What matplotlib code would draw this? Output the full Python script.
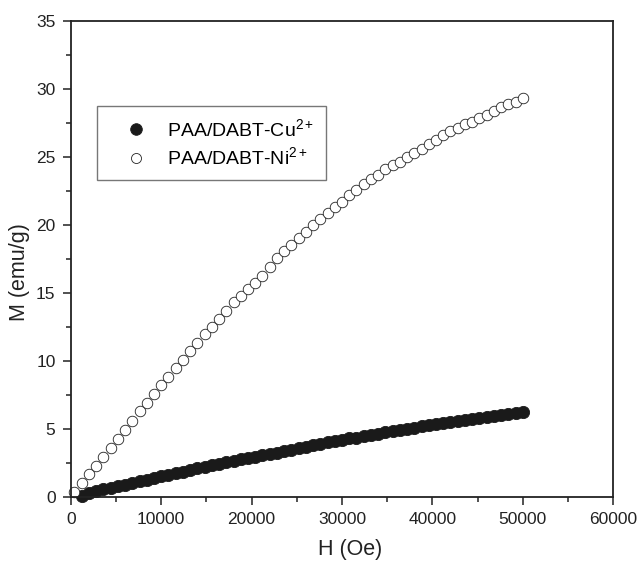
import matplotlib
matplotlib.use("Agg")
import matplotlib.pyplot as plt
from matplotlib.ticker import MultipleLocator

plt.rcParams['font.family'] = ['Liberation Sans', 'DejaVu Sans']
plt.rcParams['mathtext.fontset'] = 'custom'
plt.rcParams['mathtext.rm'] = 'Liberation Sans'
plt.rcParams['mathtext.it'] = 'Liberation Sans'

# field values (Oe)
h_ni = [400, 1200, 2000, 2800, 3600, 4400, 5200, 6000, 6800, 7600, 8400,
        9200, 10000, 10800, 11600, 12400, 13200, 14000, 14800, 15600, 16400,
        17200, 18000, 18800, 19600, 20400, 21200, 22000, 22800, 23600, 24400,
        25200, 26000, 26800, 27600, 28400, 29200, 30000, 30800, 31600, 32400,
        33200, 34000, 34800, 35600, 36400, 37200, 38000, 38800, 39600, 40400,
        41200, 42000, 42800, 43600, 44400, 45200, 46000, 46800, 47600, 48400,
        49200, 50000]
m_ni = [0.35, 1.05, 1.7, 2.3, 2.95, 3.6, 4.25, 4.9, 5.6, 6.3, 6.9,
        7.55, 8.2, 8.85, 9.5, 10.1, 10.75, 11.3, 11.95, 12.5, 13.1,
        13.65, 14.3, 14.8, 15.3, 15.75, 16.25, 16.9, 17.55, 18.05, 18.55,
        19.0, 19.5, 20.0, 20.45, 20.9, 21.3, 21.7, 22.2, 22.6, 23.0,
        23.4, 23.7, 24.1, 24.4, 24.65, 25.0, 25.3, 25.6, 25.95, 26.25,
        26.6, 26.9, 27.15, 27.4, 27.6, 27.85, 28.1, 28.35, 28.65, 28.9,
        29.05, 29.3]

h_cu = [1200, 2000, 2800, 3600, 4400, 5200, 6000, 6800, 7600, 8400,
        9200, 10000, 10800, 11600, 12400, 13200, 14000, 14800, 15600, 16400,
        17200, 18000, 18800, 19600, 20400, 21200, 22000, 22800, 23600, 24400,
        25200, 26000, 26800, 27600, 28400, 29200, 30000, 30800, 31600, 32400,
        33200, 34000, 34800, 35600, 36400, 37200, 38000, 38800, 39600, 40400,
        41200, 42000, 42800, 43600, 44400, 45200, 46000, 46800, 47600, 48400,
        49200, 50000]
m_cu = [0.1, 0.25, 0.4, 0.55, 0.65, 0.8, 0.9, 1.0, 1.15, 1.25,
        1.4, 1.5, 1.6, 1.75, 1.85, 1.95, 2.1, 2.2, 2.35, 2.45,
        2.55, 2.65, 2.75, 2.85, 2.95, 3.05, 3.15, 3.25, 3.35, 3.45,
        3.6, 3.7, 3.8, 3.9, 4.0, 4.1, 4.2, 4.3, 4.35, 4.45,
        4.55, 4.65, 4.75, 4.85, 4.95, 5.0, 5.1, 5.2, 5.25, 5.35,
        5.45, 5.5, 5.6, 5.65, 5.75, 5.8, 5.9, 5.95, 6.05, 6.1,
        6.2, 6.25]

labels = [r'PAA/DABT-Cu$^{2+}$', r'PAA/DABT-Ni$^{2+}$']

fig = plt.figure(figsize=(6.38, 5.64), dpi=100)
ax = fig.add_axes([0.111, 0.119, 0.850, 0.844])

ax.plot(h_cu, m_cu, 'o', ms=8.8, mfc='#1a1a1a', mec='#1a1a1a', mew=0.6,
        label=labels[0], clip_on=False)
ax.plot(h_ni, m_ni, 'o', ms=7.6, mfc='white', mec='#222222', mew=0.6,
        label=labels[1], clip_on=False)

ax.set_xlim(0, 60000)
ax.set_ylim(0, 35)
ax.xaxis.set_major_locator(MultipleLocator(10000))
ax.xaxis.set_minor_locator(MultipleLocator(5000))
ax.yaxis.set_major_locator(MultipleLocator(5))
ax.yaxis.set_minor_locator(MultipleLocator(2.5))

ax.tick_params(which='both', direction='out', top=False, right=False,
               labelsize=12.5, colors='#222222', width=1.1)
ax.tick_params(which='major', length=6, pad=5)
ax.tick_params(which='minor', length=3.5)
for sp in ax.spines.values():
    sp.set_linewidth(1.3)
    sp.set_color('#222222')

ax.set_xlabel('H (Oe)', fontsize=15.5, color='#222222')
ax.set_ylabel('M (emu/g)', fontsize=15.5, color='#222222')
ax.xaxis.set_label_coords(0.515, -0.088)
ax.yaxis.set_label_coords(-0.076, 0.473)

leg = ax.legend(loc='upper left', bbox_to_anchor=(0.048, 0.821),
                prop={'size': 14}, frameon=True, fancybox=False,
                handlelength=2.8, handletextpad=0.2, borderpad=0.6,
                labelspacing=0.35, markerscale=0.95, borderaxespad=0)
leg.get_frame().set_edgecolor('#555555')
leg.get_frame().set_linewidth(1.0)

fig.savefig('out.png', dpi=100)
